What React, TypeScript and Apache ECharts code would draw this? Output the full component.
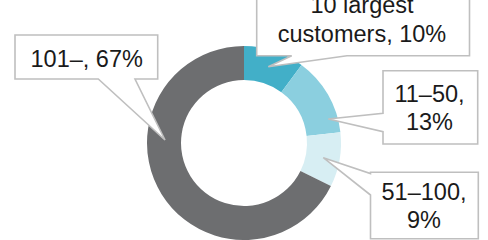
import React, { useEffect, useRef } from "react";
import * as echarts from "echarts";

// ---- data ----
const categories = ["10 largest customers", "11–50", "51–100", "101–"];
const shares = [10, 13, 9, 67];
const colors = ["#42afc8", "#8bcfdf", "#d7eef3", "#6d6e70"];

// ---- layout (callout boxes and pointer tips, in pixels) ----
const CENTER: [number, number] = [244, 143];
const RADII: [number, number] = [63, 97];
type Callout = {
  box: [number, number, number, number]; // x0, y0, x1, y1
  edge: "bottom" | "left";
  base: [number, number]; // along the edge (two coordinates)
  tip: [number, number];
  text: [number, number]; // text block centre
  wrap: "name" | "comma" | "none";
};
const callouts: Callout[] = [
  { box: [256.7, -17.6, 469.5, 55.7], edge: "bottom", base: [347, 291.7], tip: [268.3, 66.7], text: [362, 19.6], wrap: "name" },
  { box: [383, 70.7, 477.7, 144], edge: "left", base: [131.7, 113.3], tip: [328.3, 119], text: [429.5, 107.8], wrap: "comma" },
  { box: [370.5, 172.3, 478.3, 238.7], edge: "left", base: [195, 173.6], tip: [323.3, 157.7], text: [424, 206.2], wrap: "comma" },
  { box: [15, 35, 157.7, 79], edge: "bottom", base: [135, 98.3], tip: [165, 140], text: [86.7, 59.2], wrap: "none" },
];

function labelText(i: number): string {
  const name = categories[i];
  const v = shares[i];
  const w = callouts[i].wrap;
  if (w === "name") {
    const k = name.indexOf(" ", name.indexOf(" ") + 1);
    return name.slice(0, k) + "\n" + name.slice(k + 1) + ", " + v + "%";
  }
  if (w === "comma") return name + ",\n" + v + "%";
  return name + ", " + v + "%";
}

function calloutPoints(c: Callout): number[][] {
  const [x0, y0, x1, y1] = c.box;
  if (c.edge === "bottom") {
    return [[x0, y0], [x1, y0], [x1, y1], [c.base[0], y1], c.tip, [c.base[1], y1], [x0, y1]];
  }
  return [[x0, y0], [x1, y0], [x1, y1], [x0, y1], [x0, c.base[0]], c.tip, [x0, c.base[1]]];
}

export default function App() {
  const ref = useRef<HTMLDivElement>(null);
  useEffect(() => {
    if (!ref.current) return;
    const chart = echarts.init(ref.current, undefined, { renderer: "svg" });
    const font = '"Liberation Sans", Arial, sans-serif';
    const graphics: any[] = [];
    callouts.forEach((c, i) => {
      graphics.push({
        type: "polygon",
        z: 100,
        shape: { points: calloutPoints(c) },
        style: { fill: "#ffffff", stroke: "#bfbfbf", lineWidth: 1.6, lineJoin: "miter" },
        silent: true,
      });
      graphics.push({
        type: "text",
        z: 101,
        x: c.text[0],
        y: c.text[1],
        style: {
          text: labelText(i),
          fill: "#1a1a1a",
          fontFamily: font,
          fontSize: 23.5,
          lineHeight: 28.4,
          align: "center",
          verticalAlign: "middle",
        },
        silent: true,
      });
    });
    chart.setOption({
      animation: false,
      backgroundColor: "#ffffff",
      series: [
        {
          type: "pie",
          center: CENTER,
          radius: RADII,
          startAngle: 90,
          clockwise: true,
          label: { show: false },
          labelLine: { show: false },
          emphasis: { disabled: true },
          itemStyle: { borderWidth: 0 },
          data: categories.map((name, i) => ({
            name,
            value: shares[i],
            itemStyle: { color: colors[i] },
          })),
        },
      ],
      graphic: graphics,
    });
    return () => chart.dispose();
  }, []);
  return (
    <div
      ref={ref}
      style={{ position: "fixed", left: 0, top: 0, width: 488, height: 240 }}
    />
  );
}
